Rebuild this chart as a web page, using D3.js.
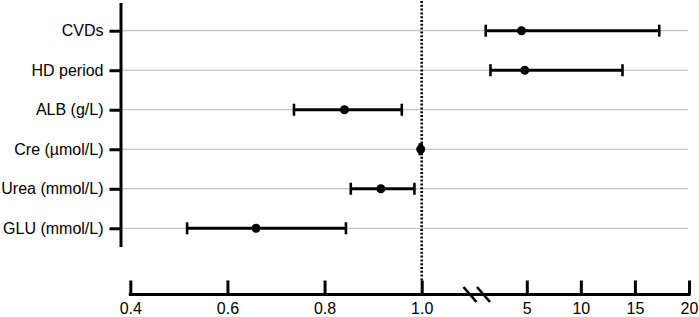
<!DOCTYPE html>
<html>
<head>
<meta charset="utf-8">
<script src="https://cdn.jsdelivr.net/npm/d3@7"></script>
<style>
  body { margin: 0; background: #fff; }
  svg { display: block; }
  text { font-family: "Liberation Sans", Arial, Helvetica, sans-serif; fill: #000; }
</style>
</head>
<body>
<script>
const categories = ["CVDs", "HD period", "ALB (g/L)", "Cre (\u00b5mol/L)", "Urea (mmol/L)", "GLU (mmol/L)"];
const estimates = [4.51, 4.81, 0.841, 0.998, 0.916, 0.659];
const lowerCI   = [1.20, 1.64, 0.737, 0.996, 0.854, 0.517];
const upperCI   = [17.25, 13.85, 0.959, 1.000, 0.985, 0.844];
const leftTicks  = [0.4, 0.6, 0.8, 1.0];
const rightTicks = [5, 10, 15, 20];
const refValue = 1.0;

const W = 699, H = 317;
const svg = d3.select("body").append("svg").attr("width", W).attr("height", H);

const xLeft  = d3.scaleLinear().domain([0.4, 1.0]).range([130.3, 421.7]);
const xRight = d3.scaleLinear().domain([5, 20]).range([526.8, 689]);
const x = v => (v <= 1.1 ? xLeft(v) : xRight(v));
const y = d3.scalePoint().domain(categories).range([30.7, 228.3]);

const axisY = 294.5, yAxisX = 121, yTop = 3, yBottom = 247;

// grid lines
svg.append("g").selectAll("line").data(categories).join("line")
  .attr("x1", yAxisX).attr("x2", 688)
  .attr("y1", d => y(d)).attr("y2", d => y(d))
  .attr("stroke", "#b4b4b4").attr("stroke-width", 1);

// reference dotted line
svg.append("line")
  .attr("x1", xLeft(refValue)).attr("x2", xLeft(refValue))
  .attr("y1", 1).attr("y2", axisY - 14)
  .attr("stroke", "#000").attr("stroke-width", 2.6)
  .attr("stroke-dasharray", "2 1.8");

// y axis
const gy = svg.append("g").attr("transform", `translate(${yAxisX},0)`)
  .call(d3.axisLeft(y).tickSize(11.5).tickPadding(6).tickSizeOuter(0));
gy.select(".domain").remove();
gy.selectAll(".tick line").attr("stroke-width", 3);
gy.selectAll(".tick text").attr("font-size", 16).style("font-family", "'Liberation Sans', Arial, sans-serif");
svg.append("line").attr("x1", yAxisX).attr("x2", yAxisX)
  .attr("y1", yTop).attr("y2", yBottom)
  .attr("stroke", "#000").attr("stroke-width", 3);

// x axis
function styleAxis(g) {
  g.select(".domain").remove();
  g.selectAll(".tick line").attr("stroke-width", 3);
  g.selectAll(".tick text").attr("font-size", 16).style("font-family", "'Liberation Sans', Arial, sans-serif");
}
svg.append("g").attr("transform", `translate(0,${axisY})`)
  .call(d3.axisBottom(xLeft).tickValues(leftTicks).tickFormat(d3.format(".1f"))
    .tickSize(-14).tickPadding(8).tickSizeOuter(0))
  .call(styleAxis);
svg.append("g").attr("transform", `translate(0,${axisY})`)
  .call(d3.axisBottom(xRight).tickValues(rightTicks).tickFormat(d3.format("d"))
    .tickSize(-14).tickPadding(8).tickSizeOuter(0))
  .call(styleAxis);
svg.append("line")
  .attr("x1", xLeft(0.4) - 1.5).attr("x2", xRight(20) + 1.5)
  .attr("y1", axisY).attr("y2", axisY)
  .attr("stroke", "#000").attr("stroke-width", 3);

// axis break marks
[470, 483.5].forEach(cx => {
  svg.append("line")
    .attr("x1", cx - 6.5).attr("y1", axisY - 7.5)
    .attr("x2", cx + 6.5).attr("y2", axisY + 7.5)
    .attr("stroke", "#000").attr("stroke-width", 2.6);
});

// error bars
const rows = categories.map((c, i) => ({ c, est: estimates[i], lo: lowerCI[i], hi: upperCI[i] }));
const g = svg.append("g");
g.selectAll(".bar").data(rows).join("line")
  .attr("x1", d => x(d.lo)).attr("x2", d => x(d.hi))
  .attr("y1", d => y(d.c)).attr("y2", d => y(d.c))
  .attr("stroke", "#000").attr("stroke-width", 3);
["lo", "hi"].forEach(k => {
  g.selectAll(".cap-" + k).data(rows).join("line")
    .attr("x1", d => x(d[k])).attr("x2", d => x(d[k]))
    .attr("y1", d => y(d.c) - 6).attr("y2", d => y(d.c) + 6)
    .attr("stroke", "#000").attr("stroke-width", 2.6);
});
g.selectAll("circle").data(rows).join("circle")
  .attr("cx", d => x(d.est)).attr("cy", d => y(d.c)).attr("r", 4.5)
  .attr("fill", "#000");
</script>
</body>
</html>
